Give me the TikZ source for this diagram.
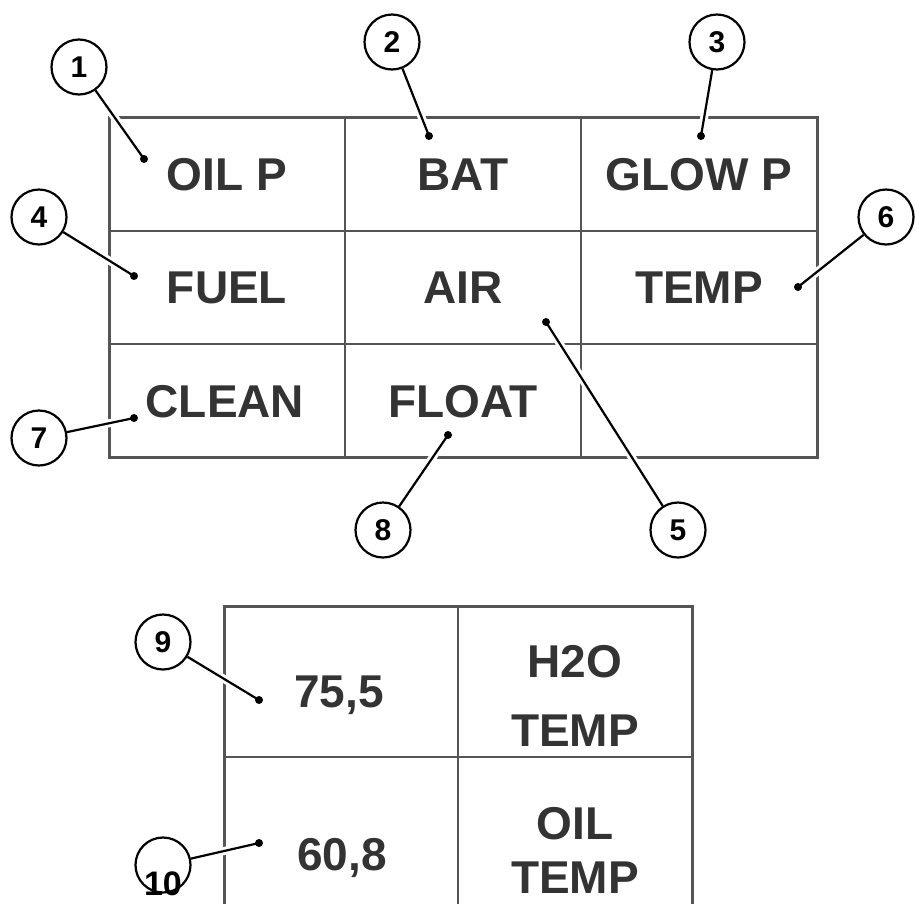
\documentclass[tikz,border=0pt]{standalone}
\usepackage{fontspec}
\setmainfont{Liberation Sans}[BoldFont={Liberation Sans Bold}]
\usepackage{tikz}

\definecolor{ink}{HTML}{333333}
\definecolor{rule}{HTML}{555555}

\pgfdeclarelayer{grid}
\pgfdeclarelayer{leads}
\pgfsetlayers{grid,leads,main}

\begin{document}
\begin{tikzpicture}[x=1pt,y=-1pt]
\useasboundingbox (0,0) rectangle (915,903);
% the two display tables
\begin{pgfonlayer}{grid}
\begin{scope}
    \clip (0,0) rectangle (915,903);
    \draw [rule, line width=1.4pt] (345,117) -- (345,457) (581,117) -- (581,457)
          (109,231) -- (817,231) (109,344) -- (817,344);
    \draw [rule, line width=3pt] (109,117) rectangle (817,457);
    \draw [rule, line width=1.4pt] (458,606) -- (458,912) (224,757) -- (692,757);
    \draw [rule, line width=3pt] (224,912) -- (224,606) -- (692,606) -- (692,912);
\end{scope}
\end{pgfonlayer}
\begin{scope}[every node/.style={text=ink,anchor=base,inner sep=0pt,
              font=\fontsize{46}{69}\selectfont\bfseries}]
    \node (oilp) at (227,190) {OIL P};
    \node (bat) at (463,190) {BAT};
    \node (glowp) at (699,190) {GLOW P};
    \node (fuel) at (227,303) {FUEL};
    \node (air) at (463,303) {AIR};
    \node (temp) at (699,303) {TEMP};
    \node (clean) at (225,417) {CLEAN};
    \node (float) at (463,417) {FLOAT};
    \node (val1) at (339,707) {75,5};
    \node (val2) at (342,870) {60,8};
    \node [align=center] (h2o) at (575,746) {H2O\\TEMP};
    \node [align=center, text depth=0pt, font=\fontsize{46}{54}\selectfont\bfseries] (oiltemp) at (575,893) {OIL\\TEMP};
\end{scope}
\begin{scope}[every node/.style={circle,draw=black,line width=2.2pt,fill=white,
              minimum size=55pt,inner sep=0pt,text=black,
              font=\fontsize{30}{30}\selectfont\bfseries}]
    \node (c1) at (79,67) {1};
    \node (c2) at (392,42) {2};
    \node (c3) at (717,42) {3};
    \node (c4) at (39,217) {4};
    \node (c5) at (678,530) {5};
    \node (c6) at (886,217) {6};
    \node (c7) at (39,438) {7};
    \node (c8) at (383,530) {8};
    \node (c9) at (163,642) {9};
    \node (c10) at (163,865) {};
\end{scope}
\node [anchor=base,inner sep=0pt,font=\fontsize{34}{34}\selectfont\bfseries] (t10) at (163,895) {10};
\begin{scope}[every node/.style={circle,fill=black,minimum size=8pt,inner sep=0pt}]
    \node (d1) at (144,159) {};
    \node (d2) at (429,136) {};
    \node (d3) at (701,136) {};
    \node (d4) at (134,276) {};
    \node (d5) at (546,322) {};
    \node (d6) at (798,287) {};
    \node (d7) at (134,418) {};
    \node (d8) at (448,435) {};
    \node (d9) at (259,700) {};
    \node (d10) at (259,843) {};
\end{scope}
\begin{pgfonlayer}{leads}
\begin{scope}[lead/.style={draw=black,line width=2.2pt,
              preaction={draw=white,line width=8pt}}]
    \path (c1) edge [lead] (d1.center);
    \path (c2) edge [lead] (d2.center);
    \path (c3) edge [lead] (d3.center);
    \path (c4) edge [lead] (d4.center);
    \path (c5) edge [lead] (d5.center);
    \path (c6) edge [lead] (d6.center);
    \path (c7) edge [lead] (d7.center);
    \path (c8) edge [lead] (d8.center);
    \path (c9) edge [lead] (d9.center);
    \path (c10) edge [lead] (d10.center);
\end{scope}
\end{pgfonlayer}
\end{tikzpicture}
\end{document}
